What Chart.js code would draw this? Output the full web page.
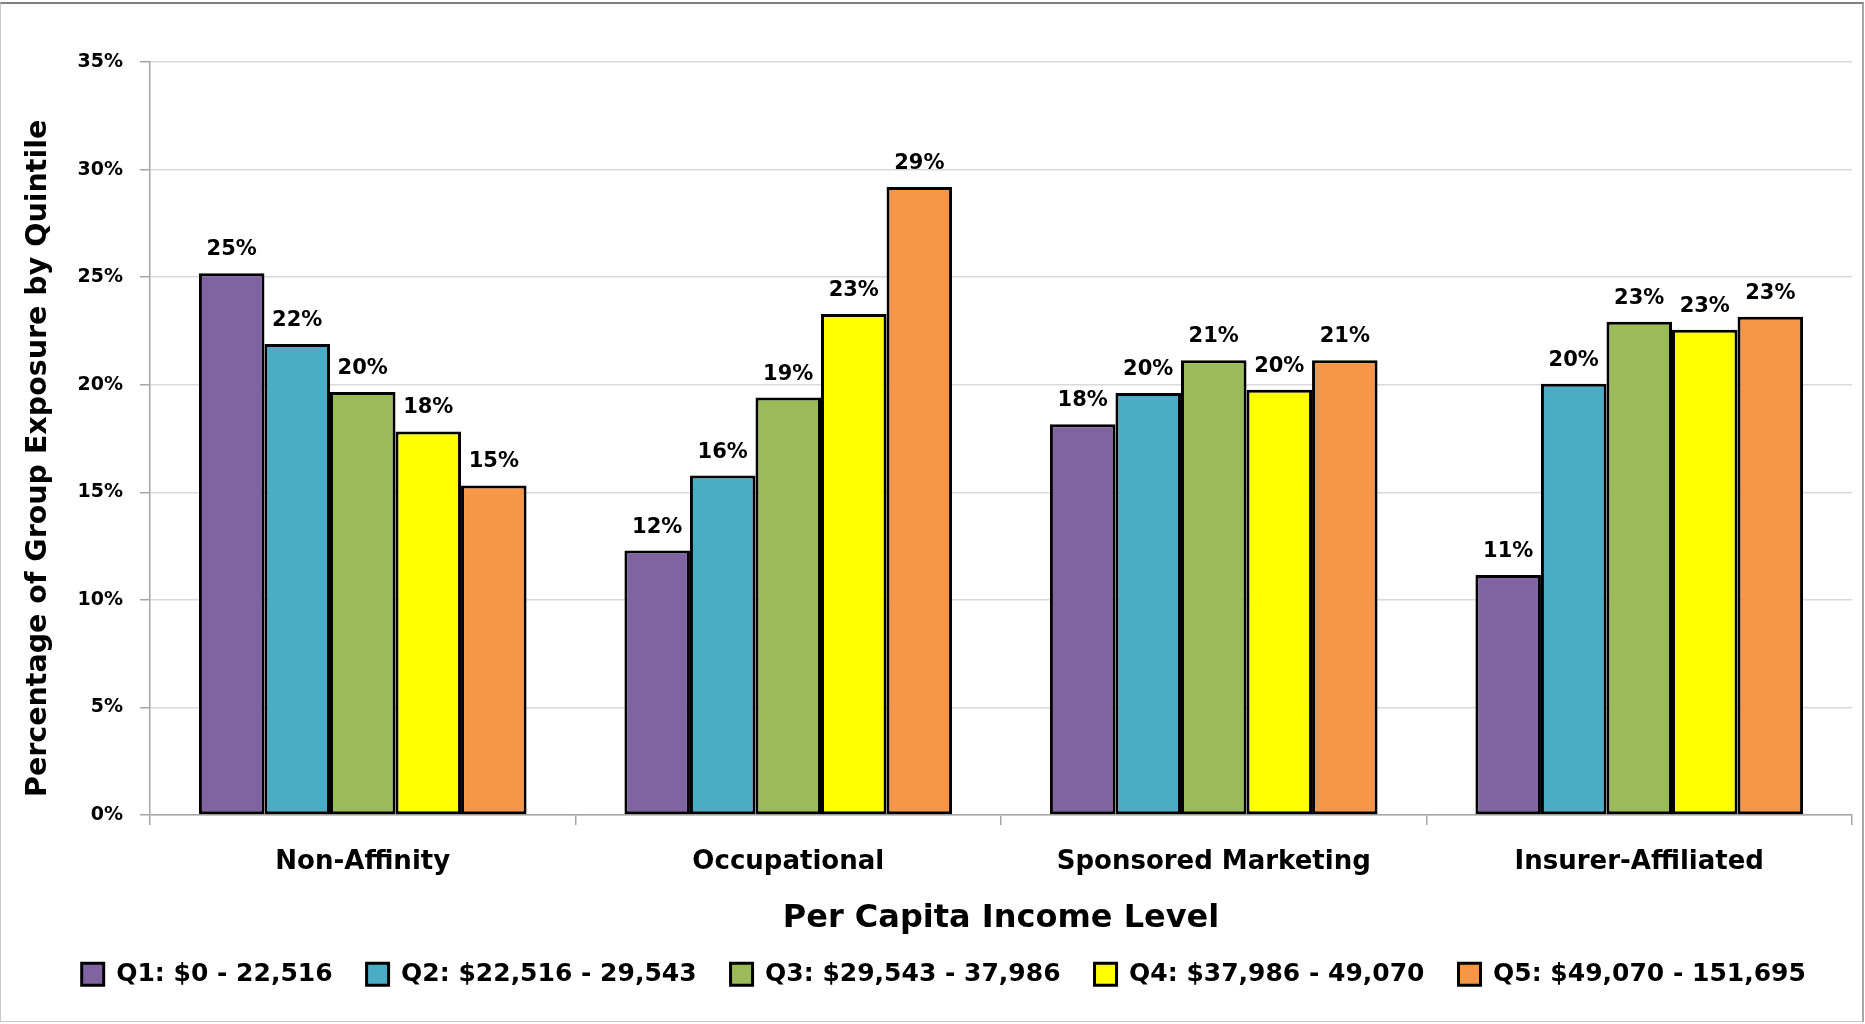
<!DOCTYPE html>
<html>
<head>
<meta charset="utf-8">
<script src="https://cdn.jsdelivr.net/npm/chart.js@4/dist/chart.umd.min.js"></script>
<style>
  html, body { margin: 0; padding: 0; background: #ffffff; }
  #wrap { position: relative; width: 1865px; height: 1024px; overflow: hidden; }
  #c { display: block; }
  #frame { position: absolute; left: 0; top: 2px; width: 1861px; height: 1017px;
           border: 1px solid #c8c8c8; border-top: 2px solid #808080; border-right: 2px solid #a6a6a6;
           pointer-events: none; }
</style>
</head>
<body>
<div id="wrap">
  <canvas id="c" width="1865" height="1024"></canvas>
  <div id="frame"></div>
</div>
<script>
// ---- data ----
const categories = ['Non-Affinity', 'Occupational', 'Sponsored Marketing', 'Insurer-Affiliated'];
const seriesNames = ['Q1: $0 - 22,516', 'Q2: $22,516 - 29,543', 'Q3: $29,543 - 37,986', 'Q4: $37,986 - 49,070', 'Q5: $49,070 - 151,695'];
const q1Values = [25.18, 12.29, 18.16, 11.15];
const q2Values = [21.89, 15.78, 19.62, 20.04];
const q3Values = [19.66, 19.40, 21.14, 22.93];
const q4Values = [17.83, 23.29, 19.77, 22.55];
const q5Values = [15.32, 29.19, 21.14, 23.16];
const seriesColors = ['#8064A2', '#4BACC6', '#9BBB59', '#FFFF00', '#F79646'];
const yMin = 0, yMax = 35, yStep = 5;
const xTitle = 'Per Capita Income Level';
const yTitle = 'Percentage of Group Exposure by Quintile';

const FONT = "'DejaVu Sans', 'Liberation Sans', sans-serif";
Chart.defaults.font.family = FONT;
Chart.defaults.color = '#000';

const allSeries = [q1Values, q2Values, q3Values, q4Values, q5Values];
const datasets = allSeries.map((vals, i) => ({
  label: seriesNames[i],
  data: vals,
  backgroundColor: seriesColors[i],
  borderColor: '#000000',
  borderWidth: 3,
  borderSkipped: false,
  categoryPercentage: 0.77,
  barPercentage: 1.0
}));

const barLabels = {
  id: 'barLabels',
  afterDatasetsDraw(chart) {
    const ctx = chart.ctx;
    ctx.save();
    ctx.font = 'bold 21px ' + FONT;
    ctx.fillStyle = '#000';
    ctx.textAlign = 'center';
    ctx.textBaseline = 'alphabetic';
    chart.data.datasets.forEach((ds, i) => {
      const meta = chart.getDatasetMeta(i);
      meta.data.forEach((bar, j) => {
        ctx.fillText(Math.round(ds.data[j]) + '%', bar.x, bar.y - 18);
      });
    });
    ctx.restore();
  }
};

const LPAD = 47.7;

new Chart(document.getElementById('c'), {
  type: 'bar',
  data: { labels: categories, datasets },
  plugins: [barLabels],
  options: {
    responsive: false,
    animation: false,
    devicePixelRatio: 1,
    layout: { padding: { top: 62, right: 13, left: LPAD, bottom: 27.3 } },
    plugins: {
      tooltip: { enabled: false },
      legend: {
        position: 'bottom',
        align: 'start',
        labels: {
          boxWidth: 22,
          boxHeight: 22,
          padding: 34,
          color: '#000',
          font: { size: 25, weight: 'bold', family: FONT },
          generateLabels(chart) {
            return chart.data.datasets.map((ds, i) => ({
              text: ds.label,
              fillStyle: ds.backgroundColor,
              strokeStyle: '#000',
              lineWidth: 3,
              datasetIndex: i,
              hidden: false
            }));
          }
        }
      }
    },
    scales: {
      x: {
        grid: { drawOnChartArea: false, drawTicks: true, tickLength: 10, color: '#a6a6a6', lineWidth: 1.5, offset: true },
        border: { color: '#a6a6a6', width: 1.5 },
        ticks: { color: '#000', padding: 21.6, font: { size: 26, weight: 'bold', family: FONT } },
        title: { display: true, text: xTitle, color: '#000', font: { size: 32, weight: 'bold', family: FONT }, padding: { top: 0, bottom: -9.8 } },
        afterFit(s) { s.height = 112.7; }
      },
      y: {
        min: yMin, max: yMax,
        ticks: { stepSize: yStep, color: '#000', padding: 17, font: { size: 19, weight: 'bold', family: FONT }, callback: v => v + '%' },
        grid: { color: '#d9d9d9', lineWidth: 1.5, tickLength: 10, tickColor: '#a6a6a6' },
        border: { color: '#a6a6a6', width: 1.5 },
        title: { display: true, text: yTitle + '\u00a0\u00a0\u00a0\u00a0', color: '#000', font: { size: 28.5, weight: 'bold', family: FONT }, padding: { top: -25.8, bottom: 0 } },
        afterFit(s) { s.width = 150 - LPAD; }
      }
    }
  }
});
</script>
</body>
</html>
